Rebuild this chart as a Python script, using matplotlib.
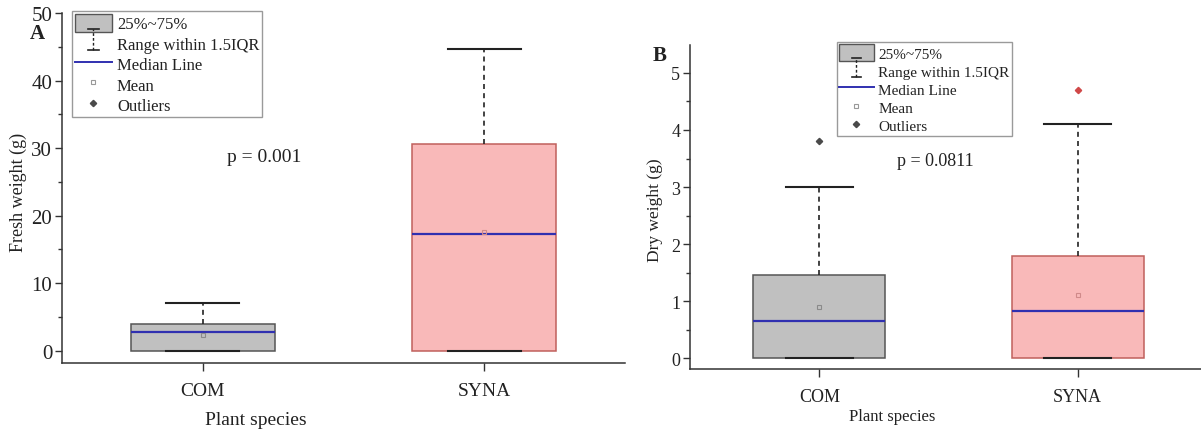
"""
Fresh / dry weight box plots for COM vs SYNA (panels A and B).
Saves out.png.
"""
import matplotlib
matplotlib.use("Agg")
import matplotlib.pyplot as plt
from matplotlib.lines import Line2D
from matplotlib.patches import Patch
from matplotlib.legend_handler import HandlerBase
from matplotlib.ticker import MultipleLocator

plt.rcParams["font.family"] = ["Liberation Serif", "DejaVu Serif"]

# ---- data ----
SPECIES = ["COM", "SYNA"]

FRESH_Q1 = [0.0, 0.0]
FRESH_MED = [2.75, 17.3]
FRESH_Q3 = [3.9, 30.6]
FRESH_MEAN = [2.3, 17.5]
FRESH_LO = [0.0, 0.0]
FRESH_HI = [7.1, 44.7]
FRESH_OUT = [[], []]

DRY_Q1 = [0.0, 0.0]
DRY_MED = [0.65, 0.82]
DRY_Q3 = [1.45, 1.79]
DRY_MEAN = [0.9, 1.11]
DRY_LO = [0.0, 0.0]
DRY_HI = [3.0, 4.1]
DRY_OUT = [[3.8], [4.7]]

P_FRESH = "p = 0.001"
P_DRY = "p = 0.0811"

# ---- styling ----
W, H = 1201, 431
FACE = ["#c0c0c0", "#f9b9b9"]
EDGE = ["#555555", "#c0605c"]
MEAN_C = ["#8a8a8a", "#d08a8a"]
OUT_C = ["#4a4a4a", "#d04848"]
MED_C = "#3030b0"
INK = "#222222"


class HandlerWhisker(HandlerBase):
    """Small I-beam glyph for the whisker legend entry."""

    def create_artists(self, legend, orig_handle, xdescent, ydescent,
                       width, height, fontsize, trans):
        cx = width / 2 - xdescent
        top = height * 1.1
        bot = -height * 0.05
        cap = width * 0.14
        arts = [
            Line2D([cx, cx], [bot, top], color=INK, lw=1.0, ls=(0, (2, 1.5))),
            Line2D([cx - cap, cx + cap], [top, top], color=INK, lw=1.2),
            Line2D([cx - cap, cx + cap], [bot, bot], color=INK, lw=1.2),
        ]
        for a in arts:
            a.set_transform(trans)
        return arts


def draw_boxes(ax, q1, med, q3, mean, lo, hi, outs):
    for i in range(len(SPECIES)):
        stats = [dict(q1=q1[i], med=med[i], q3=q3[i], mean=mean[i],
                      whislo=lo[i], whishi=hi[i], fliers=outs[i])]
        ax.bxp(stats, positions=[i + 1], widths=0.51, capwidths=0.26,
               patch_artist=True, showmeans=True, manage_ticks=False,
               boxprops=dict(facecolor=FACE[i], edgecolor=EDGE[i], lw=1.1),
               medianprops=dict(color=MED_C, lw=1.6),
               whiskerprops=dict(color=INK, lw=1.2, ls=(0, (3, 2.5))),
               capprops=dict(color=INK, lw=1.5),
               meanprops=dict(marker="s", markersize=3.5,
                              markerfacecolor="none",
                              markeredgecolor=MEAN_C[i], markeredgewidth=0.8),
               flierprops=dict(marker="D", markersize=3.2,
                               markerfacecolor=OUT_C[i],
                               markeredgecolor=OUT_C[i]))


def style_axes(ax, major, minor, ticksize, catsize):
    for s in ("top", "right"):
        ax.spines[s].set_visible(False)
    for s in ("left", "bottom"):
        ax.spines[s].set_color("#333333")
        ax.spines[s].set_linewidth(1.1)
    ax.set_xlim(0.5, 2.5)
    ax.set_xticks([1, 2])
    ax.set_xticklabels(SPECIES, fontsize=catsize, color=INK)
    ax.yaxis.set_major_locator(MultipleLocator(major))
    ax.yaxis.set_minor_locator(MultipleLocator(minor))
    ax.tick_params(axis="y", which="major", direction="out", length=5,
                   width=1, labelsize=ticksize, colors="#333333",
                   labelcolor=INK, pad=2)
    ax.tick_params(axis="y", which="minor", direction="out", length=3,
                   width=1, colors="#333333")
    ax.tick_params(axis="x", which="major", direction="out", length=6,
                   width=1, colors="#333333", labelcolor=INK, pad=8)


def add_legend(ax, anchor, fontsize, spacing):
    whisker = Line2D([], [])
    handles = [
        Patch(facecolor=FACE[0], edgecolor="#555555", lw=1),
        whisker,
        Line2D([], [], color=MED_C, lw=1.4),
        Line2D([], [], ls="none", marker="s", ms=3.5, mfc="none",
               mec="#999999", mew=0.8),
        Line2D([], [], ls="none", marker="D", ms=3.2, mfc="#4a4a4a",
               mec="#4a4a4a"),
    ]
    labels = ["25%~75%", "Range within 1.5IQR", "Median Line", "Mean",
              "Outliers"]
    leg = ax.legend(handles, labels, loc="upper left",
                    bbox_to_anchor=anchor, bbox_transform=ax.figure.transFigure,
                    handler_map={whisker: HandlerWhisker()},
                    fontsize=fontsize, frameon=True, fancybox=False,
                    framealpha=1, edgecolor="#9a9a9a", handlelength=2.25,
                    handleheight=1.3, handletextpad=0.3, labelspacing=spacing,
                    borderpad=0.15, borderaxespad=0)
    leg.get_frame().set_linewidth(1.0)
    for t in leg.get_texts():
        t.set_color(INK)


def main():
    fig = plt.figure(figsize=(W / 100, H / 100), dpi=100)

    # Panel A: fresh weight
    axA = fig.add_axes([62 / W, 1 - 364 / H, (625 - 62) / W, (364 - 14) / H])
    draw_boxes(axA, FRESH_Q1, FRESH_MED, FRESH_Q3, FRESH_MEAN,
               FRESH_LO, FRESH_HI, FRESH_OUT)
    axA.set_ylim(-1.85, 50)
    style_axes(axA, 10, 5, 15, 14)
    axA.text(1.217, 28.8, P_FRESH, ha="center", va="center", fontsize=14,
             color=INK)
    add_legend(axA, (72 / W, 1 - 12 / H), 12, 0.11)

    # Panel B: dry weight
    axB = fig.add_axes([690 / W, 1 - 370 / H, (1207 - 690) / W, (370 - 46) / H])
    draw_boxes(axB, DRY_Q1, DRY_MED, DRY_Q3, DRY_MEAN,
               DRY_LO, DRY_HI, DRY_OUT)
    axB.set_ylim(-0.19, 5.49)
    style_axes(axB, 1, 0.5, 13, 13)
    axB.text(1.45, 3.47, P_DRY, ha="center", va="center", fontsize=13,
             color=INK)
    add_legend(axB, (837 / W, 1 - 43 / H), 11, 0.1)

    # Axis titles and panel letters
    fig.text(18 / W, 1 - 192 / H, "Fresh weight (g)", rotation=90,
             ha="center", va="center", fontsize=13, color=INK)
    fig.text(256 / W, 1 - 421 / H, "Plant species", ha="center",
             va="center", fontsize=14, color=INK)
    fig.text(655 / W, 1 - 210 / H, "Dry weight (g)", rotation=90,
             ha="center", va="center", fontsize=12.5, color=INK)
    fig.text(892 / W, 1 - 417 / H, "Plant species", ha="center",
             va="center", fontsize=12, color=INK)
    fig.text(37 / W, 1 - 34 / H, "A", ha="center", va="center",
             fontsize=15, fontweight="bold", color=INK)
    fig.text(660 / W, 1 - 56 / H, "B", ha="center", va="center",
             fontsize=15, fontweight="bold", color=INK)

    fig.savefig("out.png", dpi=100, facecolor="white")
    plt.close(fig)


if __name__ == "__main__":
    main()
